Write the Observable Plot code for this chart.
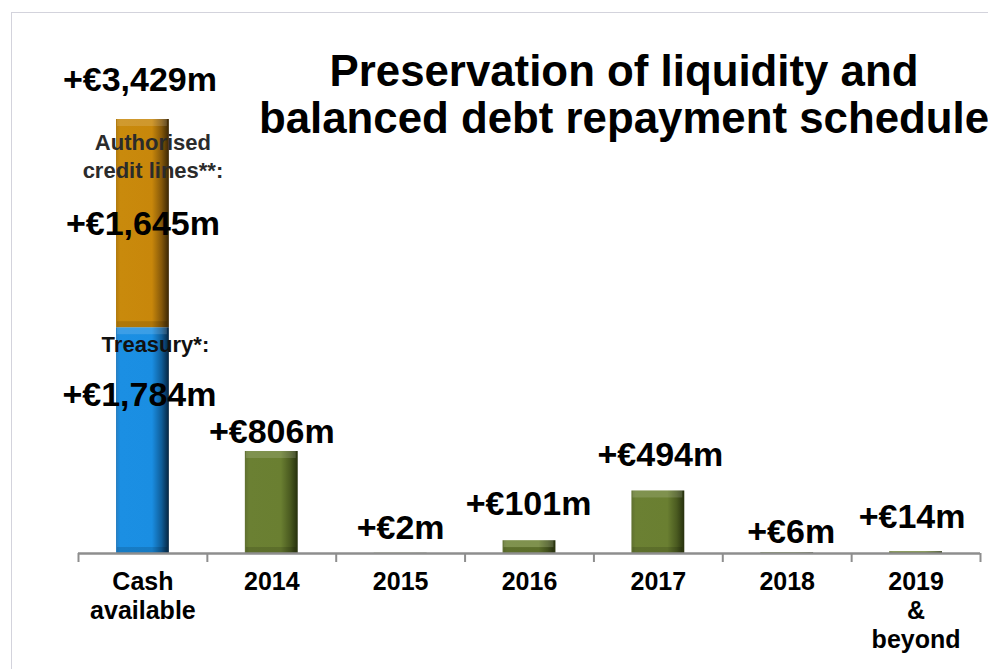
<!DOCTYPE html>
<html>
<head>
<meta charset="utf-8">
<script src="https://cdn.jsdelivr.net/npm/d3@7"></script>
<script src="https://cdn.jsdelivr.net/npm/@observablehq/plot@0.6"></script>
<style>
  html, body { margin: 0; padding: 0; background: #fff; overflow: hidden; }
  #wrap { position: relative; width: 988px; height: 669px; overflow: hidden; font-family: "Liberation Sans", Arial, sans-serif; }
  #frame { position: absolute; left: 11px; top: 12px; width: 1100px; height: 800px; border: 1px solid #d3d3dc; box-sizing: border-box; }
  #title { position: absolute; left: 0; top: 47px; width: 1248px; text-align: center; font-weight: bold; font-size: 43.8px; line-height: 47px; color: #000; white-space: nowrap; }
  #chart { position: absolute; left: 0; top: 0; }
</style>
</head>
<body>
<svg width="0" height="0" style="position:absolute">
  <defs>
    <linearGradient id="gBlue" x1="0" x2="1" y1="0" y2="0">
      <stop offset="0" stop-color="#2a7fc0"/>
      <stop offset="0.08" stop-color="#1b8fe3"/>
      <stop offset="0.68" stop-color="#1a8ee2"/>
      <stop offset="0.86" stop-color="#0f5e9a"/>
      <stop offset="1" stop-color="#05243f"/>
    </linearGradient>
    <linearGradient id="gOrange" x1="0" x2="1" y1="0" y2="0">
      <stop offset="0" stop-color="#b07a10"/>
      <stop offset="0.08" stop-color="#c98a0c"/>
      <stop offset="0.68" stop-color="#c8870b"/>
      <stop offset="0.86" stop-color="#86590a"/>
      <stop offset="1" stop-color="#3a2604"/>
    </linearGradient>
    <linearGradient id="gGreen" x1="0" x2="1" y1="0" y2="0">
      <stop offset="0" stop-color="#5f7030"/>
      <stop offset="0.08" stop-color="#6b8033"/>
      <stop offset="0.68" stop-color="#6a7f31"/>
      <stop offset="0.86" stop-color="#4a5a20"/>
      <stop offset="1" stop-color="#26300d"/>
    </linearGradient>
  </defs>
</svg>
<div id="wrap">
  <div id="frame"></div>
  <div id="chart"></div>
  <div id="title">Preservation of liquidity and<br>balanced debt repayment schedule</div>
</div>
<script>
// ---- data ----
const categories = ["Cash available", "2014", "2015", "2016", "2017", "2018", "2019 & beyond"];
const tickLabels = ["Cash\navailable", "2014", "2015", "2016", "2017", "2018", "2019\n&\nbeyond"];
const cashSeries = ["Treasury*:", "Authorised\ncredit lines**:"];
const cashValues = [1784, 1645];            // treasury, authorised credit lines (€m)
const repaymentYears = ["2014", "2015", "2016", "2017", "2018", "2019 & beyond"];
const repaymentValues = [806, 2, 101, 494, 6, 14]; // €m

// ---- layout / style (not data) ----
const W = 988, H = 669;
const margin = {left: 78, right: 8, top: 119, bottom: 116};
const step = (W - margin.left - margin.right) / categories.length;
const barInset = 38;
const fmt = v => "+€" + d3.format(",")(v) + "m";
const FONT = "Liberation Sans, Arial, sans-serif";
const VAL_FS = 34;

const treasury = cashValues[0];
const credit = cashValues[1];
const cashTotal = treasury + credit;

const repaymentRows = repaymentYears.map((c, i) => ({category: c, value: repaymentValues[i]}));
const totals = [cashTotal, ...repaymentValues];

// per-label pixel nudges (style)
const topDx = [-3, 0, 0, -1, 2, 4, -4];
const topDy = [-39, -19, -25, -37, -36, -21, -35];

const marks = [];

// bars
marks.push(Plot.barY([{category: categories[0], y1: 0, y2: treasury}],
  {x: "category", y1: "y1", y2: "y2", fill: "url(#gBlue)", insetLeft: barInset, insetRight: barInset}));
marks.push(Plot.barY([{category: categories[0], y1: treasury, y2: cashTotal}],
  {x: "category", y1: "y1", y2: "y2", fill: "url(#gOrange)", insetLeft: barInset, insetRight: barInset}));
marks.push(Plot.barY(repaymentRows,
  {x: "category", y: "value", fill: "url(#gGreen)", insetLeft: barInset, insetRight: barInset}));

// bevel highlights (top) and shades (bottom) on bars tall enough
const segs = [
  {category: categories[0], y1: 0, y2: treasury},
  {category: categories[0], y1: treasury, y2: cashTotal},
  ...repaymentRows.filter(d => d.value > 50).map(d => ({category: d.category, y1: 0, y2: d.value}))
];
marks.push(Plot.barY(segs, {x: "category", y1: "y2", y2: "y2", insetBottom: -7,
  insetLeft: barInset + 1, insetRight: barInset + 2, fill: "#fff", fillOpacity: 0.14}));
marks.push(Plot.barY(segs, {x: "category", y1: "y1", y2: "y1", insetTop: -6,
  insetLeft: barInset + 1, insetRight: barInset + 2, fill: "#000", fillOpacity: 0.13}));

// baseline and boundary ticks
marks.push(Plot.ruleY([0], {stroke: "#8e8e8e", strokeWidth: 2.5}));
marks.push(Plot.ruleX(categories, {x: d => d, y1: () => 0, y2: () => 0, insetBottom: -9, dx: -step / 2, stroke: "#8e8e8e", strokeWidth: 2}));
marks.push(Plot.ruleX([categories[categories.length - 1]], {x: d => d, y1: () => 0, y2: () => 0, insetBottom: -9, dx: step / 2, stroke: "#8e8e8e", strokeWidth: 2}));

// category labels
marks.push(Plot.text(categories, {x: d => d, y: () => 0, text: (d, i) => tickLabels[i],
  lineAnchor: "top", dy: 16, lineHeight: 1.16, fontSize: 25, fontWeight: "bold", fill: "#000"}));

// top value labels
categories.forEach((c, i) => {
  marks.push(Plot.text([{category: c, v: totals[i]}], {x: "category", y: "v", text: d => fmt(d.v),
    dx: topDx[i], dy: topDy[i], fontSize: VAL_FS, fontWeight: "bold", fill: "#000", lineAnchor: "middle"}));
});

// cash segment labels
marks.push(Plot.text([{category: categories[0], v: treasury + credit / 2}], {x: "category", y: "v", text: () => fmt(credit),
  dx: 0, dy: 1, fontSize: VAL_FS, fontWeight: "bold", fill: "#000"}));
marks.push(Plot.text([{category: categories[0], v: treasury}], {x: "category", y: "v", text: () => fmt(treasury),
  dx: -3.5, dy: 67, fontSize: VAL_FS, fontWeight: "bold", fill: "#000"}));
marks.push(Plot.text([{category: categories[0], v: cashTotal}], {x: "category", y: "v", text: () => cashSeries[1],
  dx: 10, dy: 36, fontSize: 22, lineHeight: 1.27, fontWeight: "bold", fill: "#2b2b2b"}));
marks.push(Plot.text([{category: categories[0], v: treasury}], {x: "category", y: "v", text: () => cashSeries[0],
  dx: 12.5, dy: 17, fontSize: 22, fontWeight: "bold", fill: "#111"}));

const chart = Plot.plot({
  width: W, height: H,
  marginLeft: margin.left, marginRight: margin.right, marginTop: margin.top, marginBottom: margin.bottom,
  style: {fontFamily: FONT, background: "transparent", overflow: "visible"},
  x: {domain: categories, padding: 0, round: false, axis: null},
  y: {domain: [0, cashTotal], axis: null},
  marks
});
document.getElementById("chart").appendChild(chart);
</script>
</body>
</html>
